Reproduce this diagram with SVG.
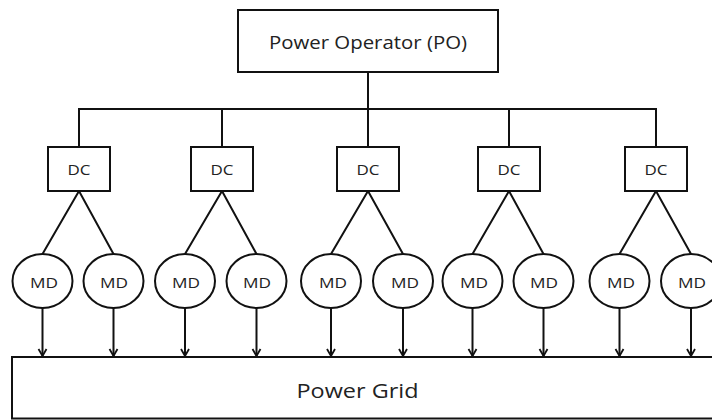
<svg xmlns="http://www.w3.org/2000/svg" width="712" height="420" viewBox="0 0 712 420">
<defs>
<style>
.box{fill:#fff;stroke:#111;stroke-width:2}
.md{fill:#fff;stroke:#111;stroke-width:2}
.ln{stroke:#111;stroke-width:2;fill:none}
.t{font-family:"Open Sans","DejaVu Sans",sans-serif;fill:#222;text-anchor:middle}
</style>
<marker id="arr" markerUnits="userSpaceOnUse" markerWidth="12" markerHeight="12" refX="8" refY="5" orient="auto">
<path d="M1,1 L8,5 L1,9" fill="none" stroke="#111" stroke-width="1.8"/>
</marker>
</defs>
<rect width="712" height="420" fill="#fff"/>
<g id="connectors">
<line class="ln" x1="368" y1="72" x2="368" y2="147"/>
<line class="ln" x1="79" y1="109" x2="656" y2="109"/>
<line class="ln" x1="79" y1="108" x2="79" y2="147"/>
<line class="ln" x1="222" y1="108" x2="222" y2="147"/>
<line class="ln" x1="509" y1="108" x2="509" y2="147"/>
<line class="ln" x1="656" y1="108" x2="656" y2="147"/>
<path class="ln" d="M42.5,254 L79,191 L113.5,254"/>
<path class="ln" d="M185,254 L222,191 L256.5,254"/>
<path class="ln" d="M331,254 L368,191 L403,254"/>
<path class="ln" d="M472.5,254 L509,191 L543.5,254"/>
<path class="ln" d="M619.5,254 L656,191 L691,254"/>
<g marker-end="url(#arr)">
<line class="ln" x1="42.5" y1="308" x2="42.5" y2="356"/>
<line class="ln" x1="113.5" y1="308" x2="113.5" y2="356"/>
<line class="ln" x1="185" y1="308" x2="185" y2="356"/>
<line class="ln" x1="256.5" y1="308" x2="256.5" y2="356"/>
<line class="ln" x1="331" y1="308" x2="331" y2="356"/>
<line class="ln" x1="403" y1="308" x2="403" y2="356"/>
<line class="ln" x1="472.5" y1="308" x2="472.5" y2="356"/>
<line class="ln" x1="543.5" y1="308" x2="543.5" y2="356"/>
<line class="ln" x1="619.5" y1="308" x2="619.5" y2="356"/>
<line class="ln" x1="691" y1="308" x2="691" y2="356"/>
</g>
</g>
<g id="po"><rect class="box" x="238" y="10" width="260" height="62"/><text class="t" x="368" y="49" font-size="18" textLength="198" lengthAdjust="spacingAndGlyphs">Power Operator (PO)</text></g>
<g id="dc1"><rect class="box" x="48" y="147" width="62" height="44"/><text class="t" x="79" y="175" font-size="15" textLength="23" lengthAdjust="spacingAndGlyphs">DC</text></g>
<g id="dc2"><rect class="box" x="191" y="147" width="62" height="44"/><text class="t" x="222" y="175" font-size="15" textLength="23" lengthAdjust="spacingAndGlyphs">DC</text></g>
<g id="dc3"><rect class="box" x="337" y="147" width="62" height="44"/><text class="t" x="368" y="175" font-size="15" textLength="23" lengthAdjust="spacingAndGlyphs">DC</text></g>
<g id="dc4"><rect class="box" x="478" y="147" width="62" height="44"/><text class="t" x="509" y="175" font-size="15" textLength="23" lengthAdjust="spacingAndGlyphs">DC</text></g>
<g id="dc5"><rect class="box" x="625" y="147" width="62" height="44"/><text class="t" x="656" y="175" font-size="15" textLength="23" lengthAdjust="spacingAndGlyphs">DC</text></g>
<g id="md1"><ellipse class="md" cx="42.5" cy="281" rx="30" ry="27"/><text class="t" x="44" y="288" font-size="15" textLength="28" lengthAdjust="spacingAndGlyphs">MD</text></g>
<g id="md2"><ellipse class="md" cx="113.5" cy="281" rx="30" ry="27"/><text class="t" x="114" y="288" font-size="15" textLength="28" lengthAdjust="spacingAndGlyphs">MD</text></g>
<g id="md3"><ellipse class="md" cx="185" cy="281" rx="30" ry="27"/><text class="t" x="186" y="288" font-size="15" textLength="28" lengthAdjust="spacingAndGlyphs">MD</text></g>
<g id="md4"><ellipse class="md" cx="256.5" cy="281" rx="30" ry="27"/><text class="t" x="257" y="288" font-size="15" textLength="28" lengthAdjust="spacingAndGlyphs">MD</text></g>
<g id="md5"><ellipse class="md" cx="331" cy="281" rx="30" ry="27"/><text class="t" x="333" y="288" font-size="15" textLength="28" lengthAdjust="spacingAndGlyphs">MD</text></g>
<g id="md6"><ellipse class="md" cx="403" cy="281" rx="30" ry="27"/><text class="t" x="405" y="288" font-size="15" textLength="28" lengthAdjust="spacingAndGlyphs">MD</text></g>
<g id="md7"><ellipse class="md" cx="472.5" cy="281" rx="30" ry="27"/><text class="t" x="474" y="288" font-size="15" textLength="28" lengthAdjust="spacingAndGlyphs">MD</text></g>
<g id="md8"><ellipse class="md" cx="543.5" cy="281" rx="30" ry="27"/><text class="t" x="544" y="288" font-size="15" textLength="28" lengthAdjust="spacingAndGlyphs">MD</text></g>
<g id="md9"><ellipse class="md" cx="619.5" cy="281" rx="30" ry="27"/><text class="t" x="621" y="288" font-size="15" textLength="28" lengthAdjust="spacingAndGlyphs">MD</text></g>
<g id="md10"><ellipse class="md" cx="691" cy="281" rx="30" ry="27"/><text class="t" x="692" y="288" font-size="15" textLength="28" lengthAdjust="spacingAndGlyphs">MD</text></g>
<g id="grid"><rect class="box" x="12" y="357" width="710" height="61.5"/><text class="t" x="357.5" y="398" font-size="20" textLength="122" lengthAdjust="spacingAndGlyphs">Power Grid</text></g>
</svg>
